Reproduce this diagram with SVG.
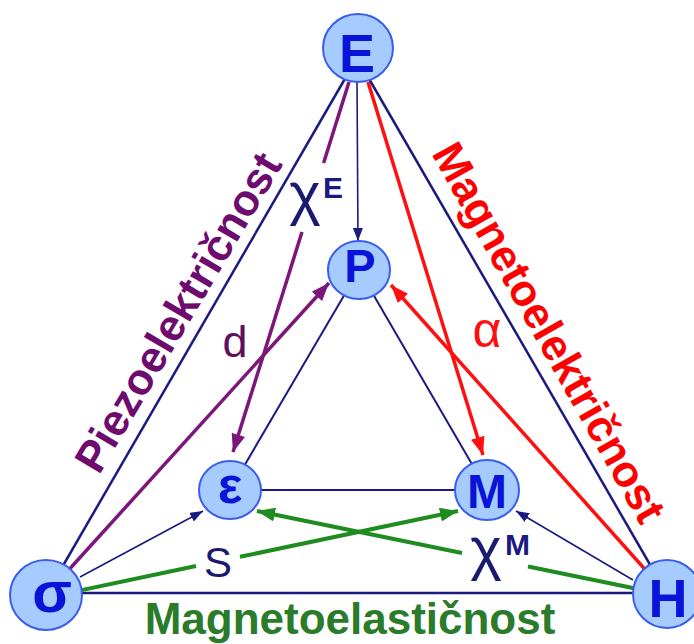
<svg xmlns="http://www.w3.org/2000/svg" width="694" height="644" viewBox="0 0 694 644">
<style>
.outer{stroke:#1a1a80;stroke-width:2.5;fill:none}
.inner{stroke:#1a1a80;stroke-width:2;fill:none}
.thin{stroke:#1a1a80;stroke-width:1.6;fill:none}
.pur{stroke:#7b167b;stroke-width:3.5;fill:none}
.red{stroke:#ff1010;stroke-width:3.5;fill:none}
.grn{stroke:#1e8c1e;stroke-width:4;fill:none}
.node ellipse{fill:#a6ccff;stroke:#3b5cf0;stroke-width:2}
.node text{font-family:"Liberation Sans",Arial,sans-serif;font-weight:bold;fill:#0a14d8;text-anchor:middle}
.lbl{font-family:"Liberation Sans",Arial,sans-serif;text-anchor:middle}
.big{font-family:"Liberation Sans",Arial,sans-serif;font-weight:bold;font-size:44px;text-anchor:middle}
</style>
<defs>
<marker id="aP" markerUnits="userSpaceOnUse" markerWidth="20" markerHeight="14" refX="18" refY="7" orient="auto"><path d="M0,0 L18,7 L0,14 z" fill="#7b167b"/></marker>
<marker id="aR" markerUnits="userSpaceOnUse" markerWidth="20" markerHeight="14" refX="18" refY="7" orient="auto"><path d="M0,0 L18,7 L0,14 z" fill="#ff1010"/></marker>
<marker id="aG" markerUnits="userSpaceOnUse" markerWidth="20" markerHeight="14" refX="18" refY="7" orient="auto"><path d="M0,0 L18,7 L0,14 z" fill="#1e8c1e"/></marker>
<marker id="aN" markerUnits="userSpaceOnUse" markerWidth="14" markerHeight="10" refX="13" refY="5" orient="auto"><path d="M0,0 L13,5 L0,10 z" fill="#1a1a80"/></marker>
</defs>
<rect width="694" height="644" fill="#ffffff"/>
<g id="connectors">
<line class="outer" x1="357" y1="58" x2="46" y2="595"/>
<line class="outer" x1="357" y1="58" x2="667" y2="594"/>
<line class="outer" x1="46" y1="593" x2="667" y2="593"/>
<line class="inner" x1="359" y1="270" x2="230" y2="490"/>
<line class="inner" x1="359" y1="270" x2="487" y2="490"/>
<line class="inner" x1="230" y1="490" x2="487" y2="490"/>
<line class="thin" x1="357" y1="80" x2="358" y2="241" marker-end="url(#aN)"/>
<line class="thin" x1="80" y1="577" x2="203" y2="511" marker-end="url(#aN)"/>
<line class="thin" x1="633" y1="580" x2="516" y2="511" marker-end="url(#aN)"/>
<line class="pur" x1="349" y1="82" x2="323.6" y2="163"/>
<line class="pur" x1="302" y1="232" x2="233" y2="452" marker-end="url(#aP)"/>
<line class="pur" x1="46" y1="595" x2="329" y2="283" marker-end="url(#aP)"/>
<line class="red" x1="368" y1="82" x2="483" y2="455" marker-end="url(#aR)"/>
<line class="red" x1="667" y1="594" x2="391" y2="285" marker-end="url(#aR)"/>
<line class="grn" x1="46" y1="597.6" x2="196" y2="566"/>
<line class="grn" x1="240" y1="556.8" x2="458" y2="511" marker-end="url(#aG)"/>
<line class="grn" x1="667" y1="595" x2="528" y2="566.5"/>
<line class="grn" x1="462" y1="553" x2="257" y2="511" marker-end="url(#aG)"/>
</g>
<g id="labels">
<text class="lbl" x="305" y="214" font-size="60" fill="#1a1a70">χ</text>
<text x="323" y="198" font-family="Liberation Sans,Arial,sans-serif" font-weight="bold" font-size="30" fill="#1a1a80">E</text>
<text class="lbl" x="486" y="569" font-size="60" fill="#1a1a70">χ</text>
<text x="505" y="555" font-family="Liberation Sans,Arial,sans-serif" font-weight="bold" font-size="30" fill="#1a1a80">M</text>
<text class="lbl" x="218" y="577" font-size="42" fill="#1a1a70">S</text>
<text class="lbl" x="235" y="357" font-size="45" fill="#5c1060">d</text>
<text class="lbl" x="487" y="347" font-size="50" fill="#ff1010">α</text>
<text class="big" fill="#6e0b6e" transform="translate(191,320) rotate(-59.4)">Piezoelektričnost</text>
<text class="big" fill="#ff0000" transform="translate(536,340) rotate(60.6)">Magnetoelektričnost</text>
<text class="big" fill="#2a7b2a" x="350" y="634" font-size="43">Magnetoelastičnost</text>
</g>
<g id="node-E" class="node"><ellipse cx="358" cy="48" rx="35" ry="34"/><text x="357" y="72" font-size="54">E</text></g>
<g id="node-P" class="node"><ellipse cx="359" cy="270" rx="31" ry="29"/><text x="360" y="282" font-size="47">P</text></g>
<g id="node-eps" class="node"><ellipse cx="230" cy="490" rx="31" ry="29"/><text x="230" y="503" font-size="52">ε</text></g>
<g id="node-M" class="node"><ellipse cx="487" cy="490" rx="32" ry="30"/><text x="487" y="508" font-size="48">M</text></g>
<g id="node-sigma" class="node"><ellipse cx="46" cy="595" rx="36" ry="35"/><text x="52" y="612" font-size="58">σ</text></g>
<g id="node-H" class="node"><ellipse cx="667" cy="594" rx="34" ry="34"/><text x="668" y="617" font-size="54">H</text></g>
</svg>
